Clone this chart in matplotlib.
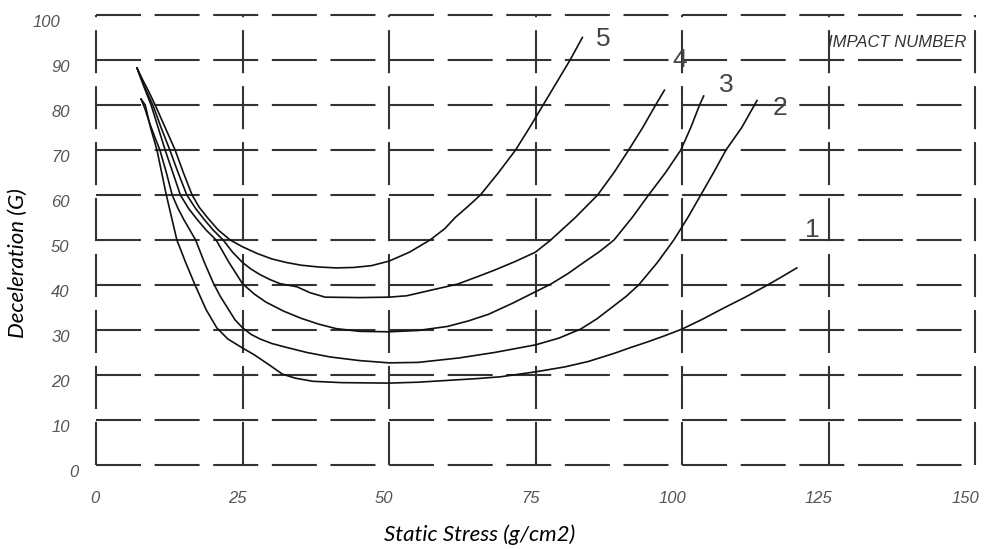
import numpy as np
import matplotlib.pyplot as plt
from matplotlib.transforms import ScaledTranslation

# deceleration curves, one per impact number
x1 = [7.7, 8.4, 9.3, 10.4, 11.2, 12.0, 12.9, 13.8, 15.3, 16.9, 18.8, 20.6, 22.5, 25.0, 27.0, 29.5,
      31.8, 34.0, 37.0, 42.0, 50.0, 55.0, 60.0, 65.0, 69.0, 75.0, 80.0, 84.0, 88.4, 91.0, 94.0,
      97.0, 100.0, 103.5, 107.0, 110.8, 114.6, 117.0, 119.6]
y1 = [81.3, 80.0, 75.0, 70.0, 65.0, 60.0, 55.0, 50.0, 45.0, 40.0, 34.5, 30.5, 28.0, 26.0, 24.5, 22.3,
      20.2, 19.3, 18.6, 18.3, 18.2, 18.4, 18.8, 19.2, 19.6, 20.7, 21.8, 23.0, 24.8, 26.0, 27.3,
      28.7, 30.2, 32.4, 34.8, 37.3, 40.0, 41.8, 43.8]

x2 = [7.7, 8.4, 9.0, 10.0, 10.9, 12.0, 13.0, 14.0, 15.0, 17.0, 18.5, 20.0, 21.2, 22.5, 23.7, 25.0,
      26.5, 28.0, 30.0, 32.0, 36.0, 40.0, 45.0, 50.0, 55.0, 62.0, 68.0, 75.0, 79.0, 82.7, 85.5,
      88.0, 90.5, 92.6, 95.8, 98.6, 101.0, 103.2, 105.4, 107.5, 110.2, 112.8]
y2 = [81.3, 79.0, 76.5, 73.0, 70.0, 65.0, 60.0, 57.0, 54.5, 50.0, 45.0, 40.5, 37.5, 34.8, 32.3, 30.5,
      29.0, 28.0, 27.0, 26.3, 25.0, 24.0, 23.2, 22.7, 22.8, 23.8, 25.0, 26.7, 28.2, 30.2, 32.5,
      35.0, 37.5, 40.0, 45.0, 50.0, 55.0, 60.0, 65.0, 70.0, 75.0, 81.0]

x3 = [7.0, 8.2, 9.4, 10.6, 11.8, 13.1, 14.4, 15.8, 17.3, 18.8, 20.5, 22.7, 25.0, 27.0, 29.0, 32.0,
      35.0, 38.0, 41.0, 45.0, 50.0, 55.0, 60.0, 63.5, 67.0, 71.0, 75.0, 77.6, 80.5, 83.0, 86.0,
      88.4, 91.5, 94.3, 97.2, 99.8, 101.5, 103.0, 103.7]
y3 = [88.2, 84.0, 80.0, 75.0, 70.0, 65.0, 60.0, 57.0, 54.5, 52.2, 50.0, 45.0, 40.3, 38.0, 36.2, 34.2,
      32.6, 31.3, 30.3, 29.7, 29.6, 29.9, 30.8, 32.0, 33.5, 35.9, 38.5, 40.2, 42.5, 44.8, 47.5,
      50.0, 55.0, 60.0, 65.0, 70.0, 75.0, 80.0, 82.0]

x4 = [7.0, 8.3, 9.7, 11.1, 12.6, 14.0, 15.5, 17.0, 18.5, 20.0, 21.7, 23.3, 25.0, 26.5, 28.0, 29.7,
      31.4, 34.3, 36.5, 39.1, 45.0, 50.0, 53.0, 57.0, 61.7, 65.0, 68.0, 71.5, 75.0, 77.6, 81.8,
      85.6, 88.4, 90.9, 93.3, 95.5, 97.0]
y4 = [88.2, 84.0, 80.0, 75.0, 70.0, 65.0, 60.0, 57.0, 54.5, 52.2, 50.0, 47.3, 45.0, 43.5, 42.3, 41.2,
      40.3, 39.6, 38.3, 37.3, 37.2, 37.3, 37.6, 38.8, 40.2, 41.8, 43.3, 45.2, 47.3, 50.0, 55.0,
      60.0, 65.0, 70.0, 75.0, 80.0, 83.3]

x5 = [7.0, 8.0, 9.0, 10.1, 11.8, 13.5, 14.9, 16.4, 17.6, 19.0, 20.8, 22.9, 25.0, 27.5, 30.0, 32.5,
      35.0, 38.0, 41.0, 44.0, 47.0, 50.0, 53.5, 57.0, 59.5, 61.3, 63.5, 65.6, 68.7, 71.6, 74.0,
      76.3, 78.6, 80.9, 83.0]
y5 = [88.2, 85.5, 83.0, 80.0, 75.0, 70.0, 65.0, 60.0, 57.3, 55.0, 52.3, 50.0, 48.5, 47.0, 45.8, 45.0,
      44.4, 44.0, 43.8, 43.9, 44.3, 45.3, 47.3, 50.0, 52.5, 55.0, 57.5, 60.0, 65.0, 70.0, 75.0,
      80.0, 85.0, 90.0, 95.0]

curves = [(x1, y1), (x2, y2), (x3, y3), (x4, y4), (x5, y5)]
impact_labels = ['1', '2', '3', '4', '5']
label_x = [122.2, 116.7, 107.5, 99.6, 86.5]
label_y = [52.2, 79.3, 84.4, 90.0, 94.7]

xticks = [0, 25, 50, 75, 100, 125, 150]
yticks = [0, 10, 20, 30, 40, 50, 60, 70, 80, 90, 100]

plt.rcParams['lines.scale_dashes'] = False

W, H = 984, 549
fig = plt.figure(figsize=(W / 100, H / 100), dpi=100)
ax = fig.add_axes([96 / W, (H - 465) / H, 879 / W, 450 / H])
ax.set_xlim(0, 150)
ax.set_ylim(0, 100)
for s in ax.spines.values():
    s.set_visible(False)

grid_col = '#333333'
for yv in yticks:
    ax.plot([0, 150], [yv, yv], color=grid_col, lw=1.5,
            dashes=(32.4, 9.8), clip_on=False, zorder=1)
for xv in xticks:
    ax.plot([xv, xv], [0, 100], color=grid_col, lw=1.5,
            dashes=(31.0, 9.3), clip_on=False, zorder=1)

for cx, cy in curves:
    ax.plot(cx, cy, color='#111111', lw=1.2, zorder=3, clip_on=False)

for lab, lx, ly in zip(impact_labels, label_x, label_y):
    ax.text(lx, ly, lab, fontsize=19, color='#444444', family='Liberation Sans',
            ha='center', va='center', zorder=4)

ax.text(148.5, 93.8, 'IMPACT NUMBER', fontsize=12, color='#333333',
        family='Liberation Sans', style='italic', ha='right', va='center', zorder=0)

tick_font = dict(family='Liberation Sans', style='italic', size=12, color='#555555')
ax.set_xticks(xticks)
ax.set_xticklabels([str(t) for t in xticks], ha='right', **tick_font)
ax.set_yticks(yticks)
ax.set_yticklabels([str(t) for t in yticks], **tick_font)
ax.tick_params(axis='both', length=0)
ax.tick_params(axis='x', pad=19)
ax.tick_params(axis='y', pad=19)
px = fig.dpi_scale_trans
for lab in ax.get_xticklabels():
    lab.set_transform(lab.get_transform() + ScaledTranslation(4 / 100, 0, px))
y_shift = {'100': -9, '0': 9}
for lab in ax.get_yticklabels():
    dx = y_shift.get(lab.get_text(), 0)
    lab.set_transform(lab.get_transform() + ScaledTranslation(dx / 100, -6 / 100, px))

label_font = dict(family='Lato', style='italic', size=16, color='black')
ax.set_xlabel('Static Stress (g/cm2)', va='center', ha='center', **label_font)
ax.xaxis.set_label_coords((480 - 96) / 879, (465 - 535) / 450)
ax.set_ylabel('Deceleration (G)', va='center', ha='center', **label_font)
ax.yaxis.set_label_coords((18 - 96) / 879, (465 - 263) / 450)

fig.savefig('out.png', dpi=100)
